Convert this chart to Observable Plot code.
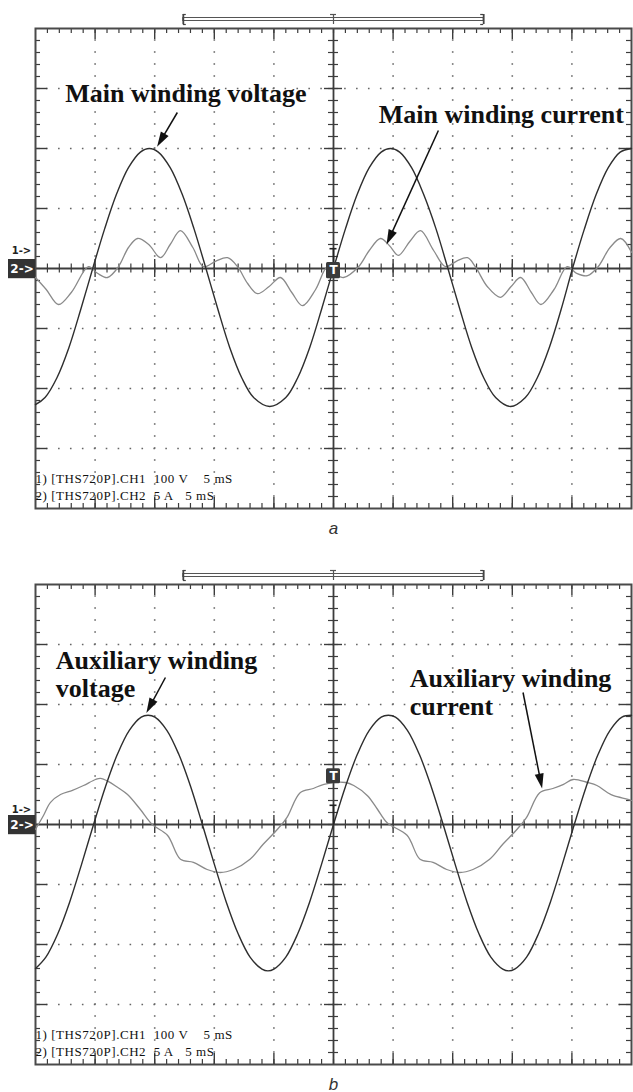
<!DOCTYPE html>
<html><head><meta charset="utf-8">
<script src="https://cdn.jsdelivr.net/npm/d3@7"></script>
<script src="https://cdn.jsdelivr.net/npm/@observablehq/plot@0.6"></script>
<style>
html,body{margin:0;padding:0;background:#fff;}
#chart svg{display:block;}
</style></head><body><div id="chart"></div>
<script>
// ---- DATA (time in ms, values in screen divisions: 100 V/div, 5 A/div) ----
const mainVoltage = [[0,-2.27],[0.8,-2.15],[1.8,-1.82],[2.8,-1.32],[3.8,-0.68],[4.8,0],[5.8,0.66],[6.8,1.24],[7.8,1.68],[8.8,1.94],[9.55,2.0],[10.3,1.94],[11.3,1.68],[12.3,1.24],[13.3,0.66],[14.3,0],[15.3,-0.68],[16.3,-1.32],[17.3,-1.82],[18.3,-2.15],[19.65,-2.3],[21.0,-2.15],[22.0,-1.82],[23.0,-1.32],[24.0,-0.68],[25.0,0],[26.0,0.66],[27.0,1.24],[28.0,1.68],[29.0,1.94],[29.78,2.0],[30.55,1.94],[31.55,1.68],[32.55,1.24],[33.6,0.66],[34.6,0],[35.6,-0.68],[36.6,-1.32],[37.6,-1.82],[38.6,-2.15],[39.85,-2.3],[41.1,-2.15],[42.1,-1.82],[43.1,-1.32],[44.1,-0.68],[45.05,0],[46.05,0.66],[47.05,1.24],[48.05,1.68],[49.05,1.94],[50,2.0]];
const mainCurrent = [[0,-0.15],[0.9,-0.35],[1.93,-0.6],[3.0,-0.4],[4.45,0.03],[5.2,-0.08],[6.04,-0.15],[6.96,0.03],[7.8,0.35],[8.56,0.5],[9.5,0.4],[10.49,0.18],[11.3,0.4],[12.16,0.63],[13.2,0.35],[14.09,0.03],[15.1,0.12],[16.11,0.18],[16.95,0.03],[17.8,-0.25],[18.62,-0.42],[19.6,-0.3],[20.55,-0.15],[21.5,-0.4],[22.4,-0.62],[23.5,-0.35],[24.5,0.03],[25.2,-0.1],[25.84,-0.15],[27.1,0.03],[28.0,0.3],[28.94,0.5],[29.7,0.38],[30.45,0.22],[31.4,0.45],[32.3,0.63],[33.4,0.3],[34.4,0.03],[35.3,0.12],[36.24,0.18],[36.9,0.03],[37.9,-0.3],[39.0,-0.48],[39.9,-0.3],[40.7,-0.15],[41.6,-0.4],[42.4,-0.6],[43.5,-0.35],[44.6,0.03],[45.4,-0.08],[46.3,-0.12],[47.2,0.03],[48.2,0.35],[49.1,0.5],[50,0.27]];
const auxVoltage = [[0,-2.4],[0.87,-2.21],[1.87,-1.82],[2.87,-1.29],[3.87,-0.66],[4.87,0],[5.87,0.63],[6.87,1.17],[7.87,1.57],[8.87,1.79],[9.44,1.82],[10.02,1.79],[11.02,1.57],[12.02,1.17],[13.02,0.63],[14.0,0],[15.0,-0.66],[16.0,-1.29],[17.0,-1.82],[18.0,-2.21],[19.0,-2.41],[19.5,-2.44],[20.0,-2.41],[21.0,-2.21],[22.0,-1.82],[23.0,-1.29],[24.0,-0.66],[25.0,0],[26.0,0.63],[27.0,1.17],[28.0,1.57],[29.0,1.79],[29.6,1.82],[30.2,1.79],[31.2,1.57],[32.2,1.17],[33.2,0.63],[34.2,0],[35.2,-0.66],[36.2,-1.29],[37.2,-1.82],[38.2,-2.21],[39.2,-2.41],[39.7,-2.44],[40.2,-2.41],[41.2,-2.21],[42.2,-1.82],[43.2,-1.29],[44.2,-0.66],[45.2,0],[46.2,0.63],[47.2,1.17],[48.2,1.57],[49.2,1.79],[50,1.82]];
const auxCurrent = [[0,-0.08],[0.67,0.15],[1.26,0.37],[2.1,0.5],[3.1,0.57],[4.03,0.65],[5.03,0.75],[5.45,0.77],[6.1,0.72],[6.88,0.62],[7.72,0.5],[8.8,0.25],[9.8,0],[11.07,-0.18],[12.16,-0.58],[13.25,-0.63],[14.4,-0.75],[15.5,-0.8],[16.6,-0.75],[18.0,-0.58],[19.1,-0.33],[20.3,-0.08],[21.1,0.12],[22.2,0.53],[23.3,0.6],[24.2,0.67],[26.0,0.7],[26.7,0.65],[27.85,0.48],[28.7,0.25],[29.5,0.03],[31.17,-0.18],[32.26,-0.58],[33.35,-0.63],[34.5,-0.75],[35.6,-0.8],[36.7,-0.75],[38.1,-0.58],[39.2,-0.33],[40.4,-0.08],[41.2,0.12],[42.3,0.53],[43.4,0.6],[44.3,0.67],[45.1,0.75],[46.3,0.7],[47.1,0.65],[48.0,0.53],[48.5,0.48],[49.7,0.42],[50,0.4]];

// graticule: 10 x 5 ms divisions, 8 vertical divisions
const gridX = [5,10,15,20,30,35,40,45];
const gridY = [-3,-2,-1,1,2,3];
const minorX = d3.range(1, 50, 1);
const minorY = d3.range(-3.8, 3.81, 0.2);
const triggerTime = 25;
const scopeLines = ["1) [THS720P].CH1\u00a0 100 V\u00a0\u00a0\u00a0 5 mS", "2) [THS720P].CH2\u00a0 5 A\u00a0\u00a0 5 mS"];
const scopeLineV = [-3.57, -3.85];

const panels = [
  {id:"a", height:548, mt:28, voltage: mainVoltage, current: mainCurrent,
   trigV: [-0.17, 0.1], levelV: [0.08, 0.33], ch1V: 0.3,
   labels: [{t:2.5, v:2.77, text:"Main winding voltage"}, {t:28.8, v:2.42, text:"Main winding current"}],
   arrows: [{t1:11.9, v1:2.6, t2:10.2, v2:2.03}, {t1:33.8, v1:2.3, t2:29.45, v2:0.4}],
   lineH: 1.05},
  {id:"b", height:544, mt:36, voltage: auxVoltage, current: auxCurrent,
   trigV: [0.68, 0.93], levelV: [0.0, 0.32], ch1V: 0.25,
   labels: [{t:1.7, v:2.12, text:"Auxiliary winding\nvoltage"}, {t:31.4, v:1.82, text:"Auxiliary winding\ncurrent"}],
   arrows: [{t1:10.9, v1:2.45, t2:9.3, v2:1.86}, {t1:40.9, v1:2.2, t2:42.5, v2:0.6}],
   lineH: 1.07}
];

const W = 633, ML = 35, MR = 2;
const pxX = (W - ML - MR) / 50, pxY = 60;
const ink = "#3c3c3c";

// narrow filled arrowhead, tip at origin pointing up
const arrowHeadSymbol = {draw(ctx) { ctx.moveTo(0, 0); ctx.lineTo(-4.5, 15); ctx.lineTo(4.5, 15); ctx.closePath(); }};

function headOf(a) {
  const dx = (a.t2 - a.t1) * pxX, dy = -(a.v2 - a.v1) * pxY;
  const len = Math.hypot(dx, dy), ux = dx / len, uy = dy / len;
  const back = 10;
  return {t: a.t2, v: a.v2, te: a.t2 - ux * back / pxX, ve: a.v2 + uy * back / pxY,
          angle: Math.atan2(ux, -uy) * 180 / Math.PI, t1: a.t1, v1: a.v1};
}

function makePanel(p) {
  const mb = p.height - p.mt - 480;
  const heads = p.arrows.map(headOf);
  const bY = 4 + 9 / pxY; // bracket above frame
  const svg = Plot.plot({
    width: W, height: p.height, marginLeft: ML, marginRight: MR, marginTop: p.mt, marginBottom: mb,
    x: {domain: [0, 50], axis: null},
    y: {domain: [-4, 4], axis: null},
    style: {background: "#fff", overflow: "visible"},
    marks: [
      // dotted graticule
      Plot.ruleX(gridX, {stroke: "#666", strokeWidth: 1.6, strokeDasharray: "1.6,10.4", strokeDashoffset: 0.8}),
      Plot.ruleY(gridY, {stroke: "#666", strokeWidth: 1.6, strokeDasharray: "1.6,10.32", strokeDashoffset: 0.8}),
      // edge ticks
      Plot.ruleX(minorX, {y1: 4, y2: 4 - 5 / pxY, stroke: ink, strokeWidth: 1.2}),
      Plot.ruleX(minorX, {y1: -4, y2: -4 + 5 / pxY, stroke: ink, strokeWidth: 1.2}),
      Plot.ruleX(gridX, {y1: 4, y2: 4 - 11 / pxY, stroke: ink, strokeWidth: 1.4}),
      Plot.ruleX(gridX, {y1: -4, y2: -4 + 11 / pxY, stroke: ink, strokeWidth: 1.4}),
      Plot.ruleY(minorY, {x1: 0, x2: 5 / pxX, stroke: ink, strokeWidth: 1.2}),
      Plot.ruleY(minorY, {x1: 50, x2: 50 - 5 / pxX, stroke: ink, strokeWidth: 1.2}),
      Plot.ruleY(gridY, {x1: 0, x2: 12 / pxX, stroke: ink, strokeWidth: 1.4}),
      Plot.ruleY(gridY, {x1: 50, x2: 50 - 12 / pxX, stroke: ink, strokeWidth: 1.4}),
      // centre axes with ticks
      Plot.ruleY([0], {stroke: ink, strokeWidth: 1.8}),
      Plot.ruleX([triggerTime], {stroke: ink, strokeWidth: 1.8}),
      Plot.ruleX(minorX, {y1: -4.5 / pxY, y2: 4.5 / pxY, stroke: ink, strokeWidth: 1.2}),
      Plot.ruleX(gridX, {y1: -9 / pxY, y2: 9 / pxY, stroke: ink, strokeWidth: 1.4}),
      Plot.ruleY(minorY, {x1: triggerTime - 5 / pxX, x2: triggerTime + 5 / pxX, stroke: ink, strokeWidth: 1.2}),
      Plot.ruleY(gridY, {x1: triggerTime - 9 / pxX, x2: triggerTime + 9 / pxX, stroke: ink, strokeWidth: 1.4}),
      Plot.frame({stroke: "#4a4a4a", strokeWidth: 2}),
      // top record bracket
      Plot.rect([0], {x1: 12.4, x2: 37.6, y1: bY - 1.5 / pxY, y2: bY + 1.5 / pxY, fill: "none", stroke: "#555", strokeWidth: 1}),
      Plot.ruleX([12.4, 37.6], {y1: bY - 5 / pxY, y2: bY + 5 / pxY, stroke: "#444", strokeWidth: 1.8}),
      Plot.ruleX([triggerTime], {y1: bY - 5 / pxY, y2: bY + 5 / pxY, stroke: "#555", strokeWidth: 1.2}),
      Plot.ruleY([bY - 5 / pxY, bY + 5 / pxY], {x1: 12.4, x2: 12.4 + 3 / pxX, stroke: "#444", strokeWidth: 1.2}),
      Plot.ruleY([bY - 5 / pxY, bY + 5 / pxY], {x1: 37.6, x2: 37.6 - 3 / pxX, stroke: "#444", strokeWidth: 1.2}),
      Plot.ruleY([bY + 5 / pxY], {x1: triggerTime - 3 / pxX, x2: triggerTime + 3 / pxX, stroke: "#555", strokeWidth: 1.2}),
      // waveforms
      Plot.line(p.current, {x: d => d[0], y: d => d[1], stroke: "#8a8a8a", strokeWidth: 1.3, curve: "catmull-rom"}),
      Plot.line(p.voltage, {x: d => d[0], y: d => d[1], stroke: "#2e2e2e", strokeWidth: 1.4, curve: "catmull-rom"}),
      // trigger level marker
      Plot.ruleX([triggerTime], {y1: p.levelV[0], y2: p.levelV[1], stroke: "#222", strokeWidth: 1.6}),
      Plot.ruleY([p.levelV[1]], {x1: triggerTime - 3.5 / pxX, x2: triggerTime + 3.5 / pxX, stroke: "#222", strokeWidth: 1.6}),
      // trigger box
      Plot.rect([0], {x1: triggerTime - 7 / pxX, x2: triggerTime + 7 / pxX, y1: p.trigV[0], y2: p.trigV[1], fill: "#3a3a3a", rx: 1.5}),
      Plot.text(["T"], {x: triggerTime, y: (p.trigV[0] + p.trigV[1]) / 2, fill: "#fff", fontSize: 12, fontWeight: "bold", fontFamily: "DejaVu Sans"}),
      // channel markers
      Plot.rect([0], {x1: -27 / pxX, x2: 0, y1: -0.17, y2: 0.15, fill: "#333"}),
      Plot.text(["2->"], {x: -13.5 / pxX, y: -0.01, fill: "#fff", fontSize: 12, fontWeight: "bold", fontFamily: "DejaVu Sans"}),
      Plot.text(["1->"], {x: -14 / pxX, y: p.ch1V, fill: "#222", fontSize: 10, fontWeight: "bold", fontFamily: "DejaVu Sans"}),
      // annotations
      Plot.text(p.labels, {x: "t", y: "v", text: "text", textAnchor: "start", lineAnchor: "bottom", lineHeight: p.lineH, fontFamily: "Liberation Serif", fontWeight: "bold", fontSize: 26, fill: "#111"}),
      Plot.link(heads, {x1: "t1", y1: "v1", x2: "te", y2: "ve", stroke: "#111", strokeWidth: 1.5}),
      Plot.dot(heads, {x: "t", y: "v", symbol: arrowHeadSymbol, r: 5, rotate: "angle", fill: "#111", stroke: "none"}),
      // scope readout
      Plot.text(scopeLines, {x: 0, y: (d, i) => scopeLineV[i], text: d => d, textAnchor: "start", lineAnchor: "bottom", fontFamily: "Liberation Serif", fontSize: 13, fill: "#111"}),
      // panel label
      Plot.text([p.id], {x: triggerTime, y: -4.42, lineAnchor: "bottom", fontFamily: "Liberation Sans", fontStyle: "italic", fontSize: 17, fill: "#333"})
    ]
  });
  // widen the scope readout slightly, as on the instrument screen
  d3.select(svg).selectAll("text").filter(function() { return /THS720P/.test(this.textContent); })
    .attr("letter-spacing", "0.55");
  return svg;
}

const root = document.getElementById("chart");
panels.forEach(p => root.appendChild(makePanel(p)));
</script></body></html>
